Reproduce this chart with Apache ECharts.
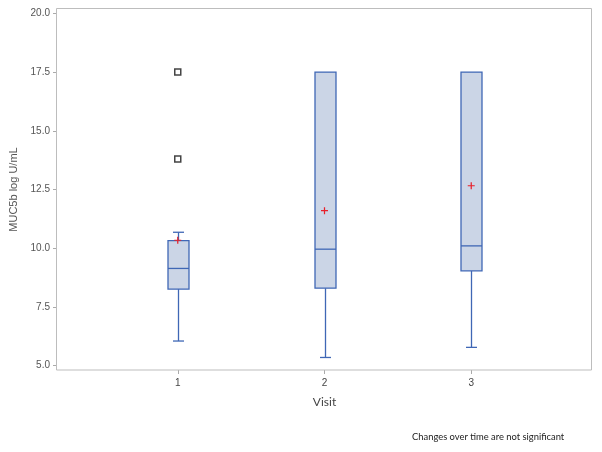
<!DOCTYPE html>
<html>
<head>
<meta charset="utf-8">
<script src="https://cdn.jsdelivr.net/npm/echarts@6/dist/echarts.min.js"></script>
<style>html,body{margin:0;padding:0;background:#fff}#c{width:602px;height:452px}</style>
</head>
<body>
<div id="c"></div>
<script>
var visits = [1, 2, 3];
var whiskerLow = [6.05, 5.35, 5.78];
var q1 = [8.26, 8.3, 9.04];
var medians = [9.14, 9.96, 10.1];
var q3 = [10.32, 17.5, 17.5];
var whiskerHigh = [10.68, 17.5, 17.5];
var means = [10.34, 11.6, 12.66];
var outlierVisit = [1, 1];
var outlierValue = [17.5, 13.8];
var yTicks = [5, 7.5, 10, 12.5, 15, 17.5, 20];

var boxData = visits.map(function (v, i) {
  return [v, whiskerLow[i], q1[i], medians[i], q3[i], whiskerHigh[i]];
});
var meanData = visits.map(function (v, i) { return [v, means[i]]; });
var outData = outlierVisit.map(function (v, i) { return [v, outlierValue[i]]; });

var chart = echarts.init(document.getElementById('c'));
var BLUE = '#3f67b5';
var FILL = '#cbd5e6';
chart.setOption({
  animation: false,
  backgroundColor: '#fff',
  grid: { left: 56, right: 10, top: 13.3, bottom: 86.3, show: false },
  xAxis: {
    type: 'value', min: 0.177, max: 3.823, offset: 4.3,
    splitLine: { show: false },
    axisLine: { show: false },
    axisTick: { show: true, length: 4, customValues: visits, lineStyle: { color: '#aaa' } },
    axisLabel: { customValues: visits, margin: 8, color: '#444', fontFamily: 'Liberation Sans', fontSize: 10 },
    name: 'Visit', nameLocation: 'middle', nameGap: 26,
    nameTextStyle: { fontFamily: 'Lato', fontSize: 12, color: '#444' }
  },
  yAxis: {
    type: 'value', min: 5, max: 20, interval: 2.5,
    splitLine: { show: false },
    axisLine: { show: false },
    axisTick: { show: true, length: 4, lineStyle: { color: '#aaa' } },
    axisLabel: { margin: 7, color: '#555', fontFamily: 'Liberation Sans', fontSize: 10,
      formatter: function (v) { return v.toFixed(1); } },
    name: 'MUC5b log U/mL', nameLocation: 'middle', nameGap: 38, nameRotate: 90,
    nameTextStyle: { fontFamily: 'Liberation Sans', fontSize: 11, color: '#555' }
  },
  graphic: [
    { type: 'rect', shape: { x: 56.5, y: 8.5, width: 535, height: 361.5 }, z: 100,
      style: { fill: 'none', stroke: '#bdbdbd', lineWidth: 1 } },
    { type: 'text', left: 412, top: 432, z: 100,
      style: { text: 'Changes over time are not significant', font: '9.4px Lato', fill: '#222' } }
  ],
  series: [
    {
      type: 'custom',
      data: boxData,
      renderItem: function (params, api) {
        var x = api.value(0);
        var pLow = api.coord([x, api.value(1)]);
        var pQ1 = api.coord([x, api.value(2)]);
        var pMed = api.coord([x, api.value(3)]);
        var pQ3 = api.coord([x, api.value(4)]);
        var pHigh = api.coord([x, api.value(5)]);
        var cx = Math.round(pQ1[0]) + 0.5;
        var bw = 21, cw = 11;
        var ls = { stroke: BLUE, lineWidth: 1.3, fill: 'none' };
        var children = [
          { type: 'line', shape: { x1: cx, y1: pQ1[1], x2: cx, y2: pLow[1] }, style: ls },
          { type: 'line', shape: { x1: cx, y1: pQ3[1], x2: cx, y2: pHigh[1] }, style: ls },
          { type: 'line', shape: { x1: cx - cw / 2, y1: pLow[1], x2: cx + cw / 2, y2: pLow[1] }, style: ls },
          { type: 'rect', shape: { x: cx - bw / 2, y: pQ3[1], width: bw, height: pQ1[1] - pQ3[1] },
            style: { fill: FILL, stroke: BLUE, lineWidth: 1.3 } },
          { type: 'line', shape: { x1: cx - bw / 2, y1: pMed[1], x2: cx + bw / 2, y2: pMed[1] }, style: ls }
        ];
        if (Math.abs(pHigh[1] - pQ3[1]) > 1) {
          children.push({ type: 'line', shape: { x1: cx - cw / 2, y1: pHigh[1], x2: cx + cw / 2, y2: pHigh[1] }, style: ls });
        }
        return { type: 'group', children: children };
      },
      z: 2
    },
    {
      type: 'scatter',
      data: meanData,
      symbol: 'path://M3.3,0 L4.7,0 L4.7,3.3 L8,3.3 L8,4.7 L4.7,4.7 L4.7,8 L3.3,8 L3.3,4.7 L0,4.7 L0,3.3 L3.3,3.3 Z',
      symbolSize: 7,
      itemStyle: { color: '#e8202a', opacity: 1 },
      z: 5
    },
    {
      type: 'scatter',
      data: outData,
      symbol: 'rect',
      symbolSize: 6,
      itemStyle: { color: '#fff', borderColor: '#444', borderWidth: 1.5, opacity: 1 },
      z: 5
    }
  ]
});
</script>
</body>
</html>
